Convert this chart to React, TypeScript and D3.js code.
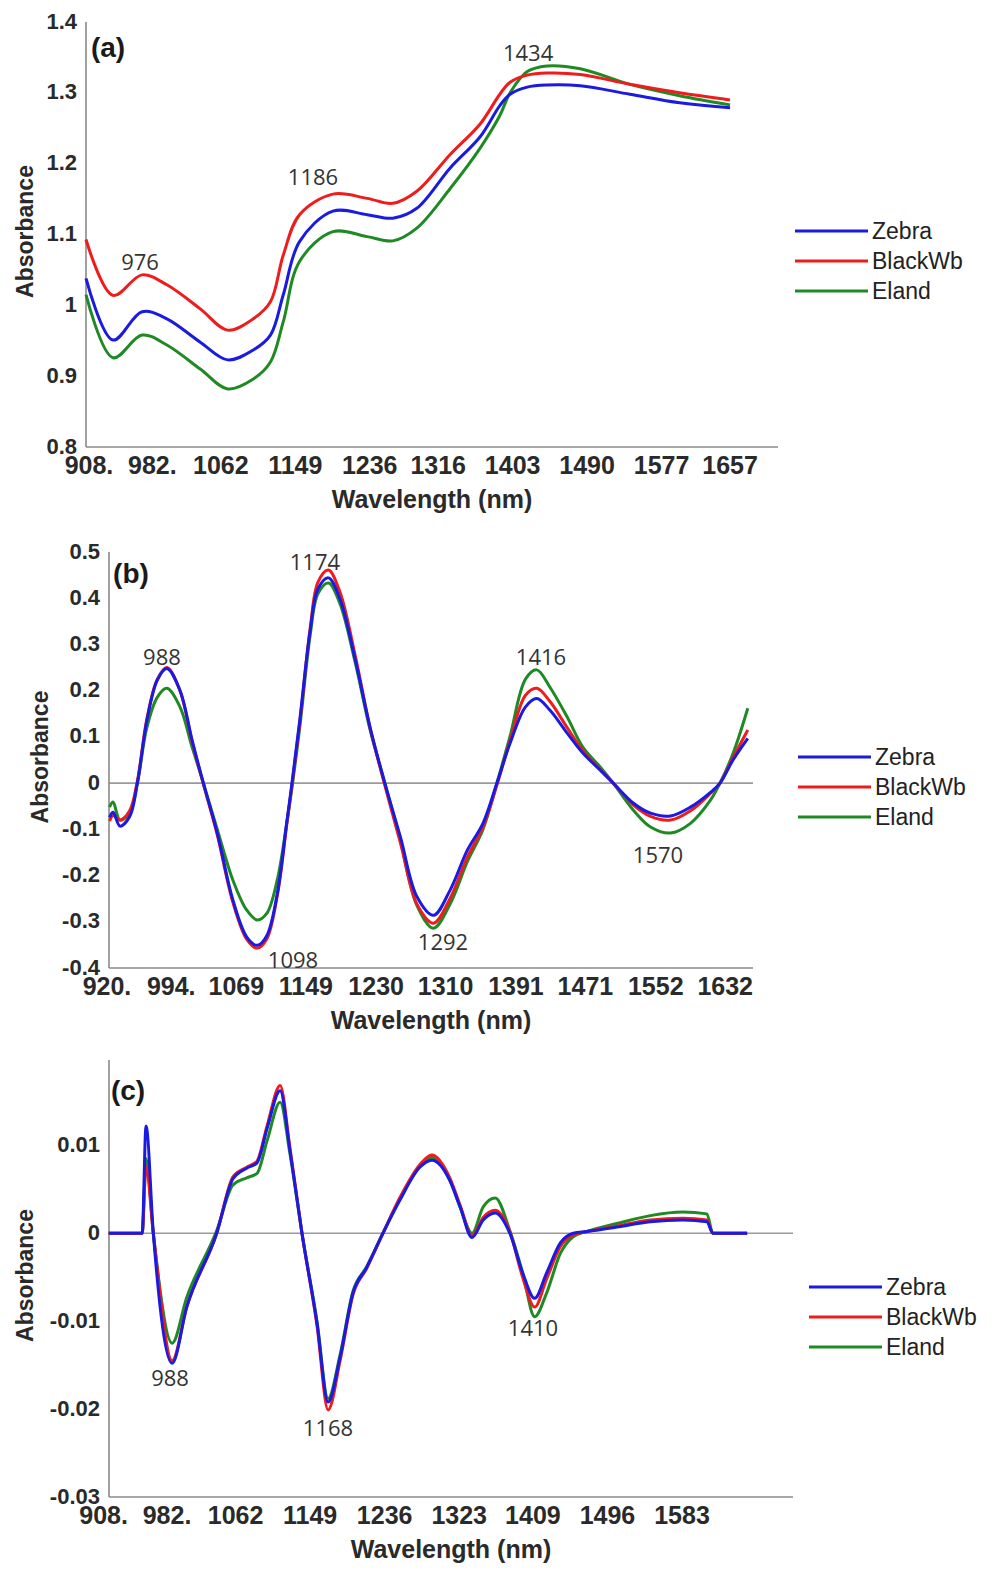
import React, { useEffect, useRef } from "react";
import * as d3 from "d3";

// series shared by all three panels
const seriesNames = ["Zebra", "BlackWb", "Eland"];
const seriesColors = ["#1a1ae0", "#ee1c1c", "#1f8a24"];

// (a) raw spectra
const waveA = [904.5, 936, 970, 999, 1038, 1070, 1100, 1120, 1135, 1154, 1193, 1233, 1263, 1291, 1330, 1365, 1388, 1400, 1420, 1443, 1482, 1540, 1598, 1657];
const zebraA = [1.038, 0.951, 0.991, 0.981, 0.948, 0.923, 0.937, 0.958, 1.015, 1.09, 1.133, 1.128, 1.123, 1.137, 1.194, 1.238, 1.282, 1.298, 1.308, 1.311, 1.31, 1.298, 1.286, 1.279];
const blackWbA = [1.093, 1.014, 1.043, 1.029, 0.995, 0.965, 0.981, 1.005, 1.071, 1.128, 1.157, 1.151, 1.144, 1.161, 1.213, 1.256, 1.298, 1.315, 1.325, 1.328, 1.326, 1.312, 1.3, 1.29];
const elandA = [1.015, 0.926, 0.958, 0.944, 0.91, 0.882, 0.896, 0.92, 0.977, 1.062, 1.104, 1.097, 1.091, 1.109, 1.165, 1.222, 1.268, 1.3, 1.33, 1.338, 1.334, 1.312, 1.296, 1.283];
const xTicksA = [908, 982, 1062, 1149, 1236, 1316, 1403, 1490, 1577, 1657];
const xTickLabelsA = ["908.", "982.", "1062", "1149", "1236", "1316", "1403", "1490", "1577", "1657"];
const yTicksA = [0.8, 0.9, 1, 1.1, 1.2, 1.3, 1.4];
const yTickLabelsA = ["0.8", "0.9", "1", "1.1", "1.2", "1.3", "1.4"];
const peaksA: [string, number, number][] = [["976", 967.6, 1.061], ["1186", 1169.7, 1.181], ["1434", 1421, 1.356]];

// (b) first derivative
const waveB = [923, 927, 935, 946, 955, 966, 978, 989, 1004, 1018, 1031, 1047, 1065, 1081, 1093, 1104, 1116, 1127, 1133, 1142, 1154, 1163, 1175, 1188, 1206, 1223, 1240, 1258, 1277, 1296, 1315, 1335, 1353, 1369, 1384, 1402, 1415, 1430, 1450, 1468, 1488, 1503, 1526, 1546, 1569, 1592, 1615, 1626, 1641, 1658];
const zebraB = [-0.074, -0.063, -0.093, -0.073, 0.0, 0.136, 0.223, 0.248, 0.201, 0.093, 0.0, -0.108, -0.253, -0.333, -0.351, -0.33, -0.24, -0.085, 0.0, 0.136, 0.33, 0.42, 0.444, 0.4, 0.266, 0.12, 0.0, -0.117, -0.246, -0.286, -0.232, -0.145, -0.087, 0.0, 0.085, 0.165, 0.183, 0.158, 0.108, 0.065, 0.028, 0.0, -0.043, -0.065, -0.071, -0.052, -0.02, 0.0, 0.05, 0.097];
const blackWbB = [-0.082, -0.07, -0.08, -0.06, 0.005, 0.14, 0.225, 0.25, 0.2, 0.09, -0.002, -0.112, -0.258, -0.338, -0.357, -0.337, -0.245, -0.09, -0.005, 0.13, 0.335, 0.435, 0.461, 0.415, 0.275, 0.12, -0.005, -0.13, -0.262, -0.303, -0.25, -0.16, -0.095, -0.005, 0.09, 0.19, 0.205, 0.177, 0.12, 0.07, 0.03, 0.0, -0.047, -0.072, -0.08, -0.06, -0.022, 0.0, 0.055, 0.115];
const elandB = [-0.052, -0.041, -0.08, -0.065, 0.0, 0.121, 0.186, 0.205, 0.165, 0.078, 0.0, -0.1, -0.21, -0.275, -0.296, -0.282, -0.21, -0.087, -0.01, 0.12, 0.32, 0.41, 0.433, 0.39, 0.26, 0.115, 0.0, -0.125, -0.265, -0.314, -0.262, -0.17, -0.1, 0.0, 0.1, 0.225, 0.245, 0.208, 0.143, 0.078, 0.035, 0.0, -0.058, -0.095, -0.108, -0.087, -0.037, 0.0, 0.064, 0.162];
const xTicksB = [920, 994, 1069, 1149, 1230, 1310, 1391, 1471, 1552, 1632];
const xTickLabelsB = ["920.", "994.", "1069", "1149", "1230", "1310", "1391", "1471", "1552", "1632"];
const yTicksB = [-0.4, -0.3, -0.2, -0.1, 0, 0.1, 0.2, 0.3, 0.4, 0.5];
const yTickLabelsB = ["-0.4", "-0.3", "-0.2", "-0.1", "0", "0.1", "0.2", "0.3", "0.4", "0.5"];
const peaksB: [string, number, number][] = [["988", 983.3, 0.273], ["1174", 1159.5, 0.478], ["1098", 1134.2, -0.383], ["1292", 1307, -0.344], ["1416", 1419.8, 0.273], ["1570", 1554.6, -0.156]];

// (c) second derivative
const waveC = [914, 953, 957.5, 966, 988, 1005, 1040, 1059, 1075, 1087, 1099, 1114, 1125.5, 1139.5, 1157, 1170, 1184, 1199, 1215, 1234, 1254, 1277, 1291, 1312, 1324, 1338, 1351, 1365, 1382, 1397, 1411, 1425, 1441, 1456, 1472, 1507, 1546, 1584, 1612, 1619, 1659];
const zebraC = [0, 0, 0.0122, 0, -0.0148, -0.0084, 0, 0.0062, 0.0074, 0.008, 0.012, 0.0162, 0.0094, 0, -0.0102, -0.0192, -0.0141, -0.0068, -0.0039, 0, 0.0038, 0.0075, 0.0083, 0.006, 0.003, -0.0005, 0.0015, 0.0023, 0, -0.0045, -0.0074, -0.0045, -0.0011, 0, 0.0002, 0.0007, 0.0013, 0.0015, 0.0013, 0, 0];
const blackWbC = [0, 0, 0.0075, 0, -0.0145, -0.0084, 0, 0.0064, 0.0075, 0.0082, 0.0123, 0.0168, 0.0097, 0, -0.0105, -0.0201, -0.0145, -0.007, -0.004, 0, 0.0041, 0.0078, 0.0089, 0.0063, 0.0032, -0.0003, 0.0018, 0.0026, 0.0002, -0.005, -0.0084, -0.0052, -0.0015, -0.0002, 0.0002, 0.0008, 0.0015, 0.0017, 0.0015, 0, 0];
const elandC = [0, 0, 0.0085, 0, -0.0125, -0.0073, 0.0003, 0.0055, 0.0063, 0.0068, 0.0106, 0.0149, 0.009, 0, -0.01, -0.0188, -0.0138, -0.0066, -0.0038, 0, 0.004, 0.0076, 0.0086, 0.006, 0.003, 0, 0.003, 0.004, 0.0003, -0.0045, -0.0095, -0.0068, -0.0023, -0.0004, 0.0002, 0.0011, 0.002, 0.0024, 0.0022, 0, 0];
const xTicksC = [908, 982, 1062, 1149, 1236, 1323, 1409, 1496, 1583];
const xTickLabelsC = ["908.", "982.", "1062", "1149", "1236", "1323", "1409", "1496", "1583"];
const yTicksC = [-0.03, -0.02, -0.01, 0, 0.01];
const yTickLabelsC = ["-0.03", "-0.02", "-0.01", "0", "0.01"];
const peaksC: [string, number, number][] = [["988", 985.5, -0.0165], ["1168", 1169.9, -0.0222], ["1410", 1409.1, -0.0108]];

const panelTags: [string, number, number][] = [["(a)", 930.2, 1.365], ["(b)", 947.6, 0.455], ["(c)", 936.5, 0.0163]];

const SANS = "'Liberation Sans', Arial, sans-serif";
const PEAK_FONT = "'Open Sans', 'Noto Sans', sans-serif";

const panels = [
  {
    wave: waveA, series: [zebraA, blackWbA, elandA],
    xDomain: [904.5, 1713], xRange: [86, 778], yDomain: [0.8, 1.4], yRange: [447, 22],
    xTicks: xTicksA, xTickLabels: xTickLabelsA, yTicks: yTicksA, yTickLabels: yTickLabelsA,
    peaks: peaksA, tag: panelTags[0], zero: false, smooth: true, titleX: 25, legendX: 795, legendY: 231,
  },
  {
    wave: waveB, series: [zebraB, blackWbB, elandB],
    xDomain: [922.3, 1664], xRange: [109, 753], yDomain: [-0.4, 0.5], yRange: [968, 552],
    xTicks: xTicksB, xTickLabels: xTickLabelsB, yTicks: yTicksB, yTickLabels: yTickLabelsB,
    peaks: peaksB, tag: panelTags[1], zero: true, smooth: true, titleX: 40, legendX: 798, legendY: 757,
  },
  {
    wave: waveC, series: [zebraC, blackWbC, elandC],
    xDomain: [914.3, 1712.5], xRange: [109, 793], yDomain: [-0.03, 0.0197], yRange: [1497, 1060],
    xTicks: xTicksC, xTickLabels: xTickLabelsC, yTicks: yTicksC, yTickLabels: yTickLabelsC,
    peaks: peaksC, tag: panelTags[2], zero: true, smooth: false, titleX: 25, legendX: 809, legendY: 1287,
  },
];

function drawPanel(svg: any, p: any) {
  const x = d3.scaleLinear().domain(p.xDomain).range(p.xRange);
  const y = d3.scaleLinear().domain(p.yDomain).range(p.yRange);
  const [left, right] = p.xRange;
  const [bottom, top] = p.yRange;
  const g = svg.append("g");

  if (p.zero) {
    g.append("line")
      .attr("x1", left).attr("x2", right)
      .attr("y1", y(0)).attr("y2", y(0))
      .attr("stroke", "#9a9a9a").attr("stroke-width", 1.6);
  }

  // axes
  g.append("line").attr("x1", left).attr("x2", left).attr("y1", top).attr("y2", bottom)
    .attr("stroke", "#8a8a8a").attr("stroke-width", 1.6);
  g.append("line").attr("x1", left).attr("x2", right).attr("y1", bottom).attr("y2", bottom)
    .attr("stroke", "#8a8a8a").attr("stroke-width", 1.6);

  g.selectAll(".ytick").data(p.yTicks).enter().append("text")
    .attr("x", left - 9).attr("y", (d: number) => y(d)).attr("dy", "0.3em")
    .attr("text-anchor", "end")
    .style("font-family", SANS).style("font-size", "22px").style("font-weight", "bold").style("fill", "#2a2a2a")
    .text((d: number, i: number) => p.yTickLabels[i]);

  g.selectAll(".xtick").data(p.xTicks).enter().append("text")
    .attr("x", (d: number) => x(d)).attr("y", bottom + 27)
    .attr("text-anchor", "middle")
    .style("font-family", SANS).style("font-size", "25px").style("font-weight", "bold").style("fill", "#2a2a2a")
    .text((d: number, i: number) => p.xTickLabels[i]);

  g.append("text")
    .attr("x", (left + right) / 2).attr("y", bottom + 61)
    .attr("text-anchor", "middle")
    .style("font-family", SANS).style("font-size", "25px").style("font-weight", "bold").style("fill", "#2a2a2a")
    .text("Wavelength (nm)");

  g.append("text")
    .attr("transform", `translate(${p.titleX},${(top + bottom) / 2 - 3}) rotate(-90)`)
    .attr("dy", "0.36em")
    .attr("text-anchor", "middle")
    .style("font-family", SANS).style("font-size", "23px").style("font-weight", "bold").style("fill", "#2a2a2a")
    .text("Absorbance");

  // spectra, Zebra on top
  const line = d3.line<number>()
    .x((d, i) => x(p.wave[i]))
    .y((d) => y(d))
    .curve(p.smooth ? d3.curveCatmullRom.alpha(0.5) : d3.curveMonotoneX);

  [2, 1, 0].forEach((k) => {
    g.append("path")
      .datum(p.series[k])
      .attr("fill", "none")
      .attr("stroke", seriesColors[k])
      .attr("stroke-width", 3)
      .attr("stroke-linejoin", "round")
      .attr("d", line);
  });

  // peak labels
  g.selectAll(".peak").data(p.peaks).enter().append("text")
    .attr("x", (d: any) => x(d[1])).attr("y", (d: any) => y(d[2])).attr("dy", "0.36em")
    .attr("text-anchor", "middle")
    .style("font-family", PEAK_FONT).style("font-size", "22px").style("fill", "#333")
    .text((d: any) => d[0]);

  g.append("text")
    .attr("x", x(p.tag[1])).attr("y", y(p.tag[2])).attr("dy", "0.36em")
    .attr("text-anchor", "middle")
    .style("font-family", SANS).style("font-size", "28px").style("font-weight", "bold").style("fill", "#1a1a1a")
    .text(p.tag[0]);

  // legend
  seriesNames.forEach((name, i) => {
    const ly = p.legendY + i * 30;
    g.append("line")
      .attr("x1", p.legendX).attr("x2", p.legendX + 73)
      .attr("y1", ly).attr("y2", ly)
      .attr("stroke", seriesColors[i]).attr("stroke-width", 3);
    g.append("text")
      .attr("x", p.legendX + 77).attr("y", ly).attr("dy", "0.36em")
      .style("font-family", SANS).style("font-size", "23px").style("fill", "#222")
      .text(name);
  });
}

export default function App() {
  const ref = useRef<SVGSVGElement>(null);

  useEffect(() => {
    const svg = d3.select(ref.current);
    svg.selectAll("*").remove();
    panels.forEach((p) => drawPanel(svg, p));
  }, []);

  return (
    <svg
      ref={ref}
      width={1005}
      height={1573}
      style={{ position: "absolute", left: 0, top: 0, background: "#fff" }}
    />
  );
}
